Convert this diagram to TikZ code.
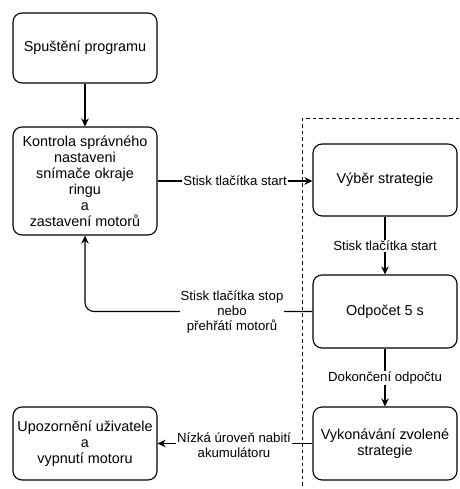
\documentclass[tikz,border=0pt]{standalone}
\usepackage{fontspec}
\setmainfont{Liberation Sans}
\usetikzlibrary{arrows.meta}
\begin{document}
\begin{tikzpicture}[x=1pt,y=-1pt,
  line width=1.1pt,
  stepbox/.style={draw, rounded corners=9pt, minimum width=144pt, align=center,
    font=\fontsize{14.4}{16}\selectfont, inner sep=2pt},
  lbl/.style={fill=white, align=center, inner sep=1pt,
    font=\fontsize{13.2}{15}\selectfont},
  arr/.style={-{Stealth[length=8pt,width=7.5pt,inset=2.5pt]}},
  border/.style={dash pattern=on 3.5pt off 3pt, line width=1pt}]
\useasboundingbox (0,0) rectangle (459,489);

% process steps
\node[stepbox, minimum height=70pt]  (start)   at (85,48)    {Spuštění programu};
\node[stepbox, minimum height=108pt] (check)   at (85,181)   {Kontrola správného\\nastaveni\\snímače okraje\\ringu\\a\\zastavení motorů};
\node[stepbox, minimum height=72pt]  (select)  at (385,180)  {Výběr strategie};
\node[stepbox, minimum height=73pt]  (count)   at (385,311.5){Odpočet 5 s};
\node[stepbox, minimum height=73pt]  (run)     at (385,443.5){Vykonávání zvolené\\strategie};
\node[stepbox, minimum height=73pt]  (warn)    at (85,443.5) {Upozornění uživatele\\a\\vypnutí motoru};

% boundary of the running phase
\coordinate (bTR) at (459,119);
\coordinate (bTL) at (302,119);
\coordinate (bB)  at (302,489);
\draw[border] (bTR) -- (bTL) -- (bB);

% transitions
\draw[arr] (start) -- (check);
\draw[arr] (check.east) -- (check.east -| select.west);
\draw[arr] (select) -- (count);
\draw[arr] (count) -- (run);
\draw[arr] (run.west) -- (warn.east);
\draw[arr, rounded corners=9pt] (count.west) -| (check.south);

% transition labels
\node[lbl] (l1) at (235,181)   {Stisk tlačítka start};
\node[lbl] (l2) at (385,246)   {Stisk tlačítka start};
\node[lbl] (l3) at (232,312)   {Stisk tlačítka stop\\nebo\\přehřátí motorů};
\node[lbl] (l4) at (385,378)   {Dokončení odpočtu};
\node[lbl] (l5) at (234,445)   {Nízká úroveň nabití\\akumulátoru};
\end{tikzpicture}
\end{document}
